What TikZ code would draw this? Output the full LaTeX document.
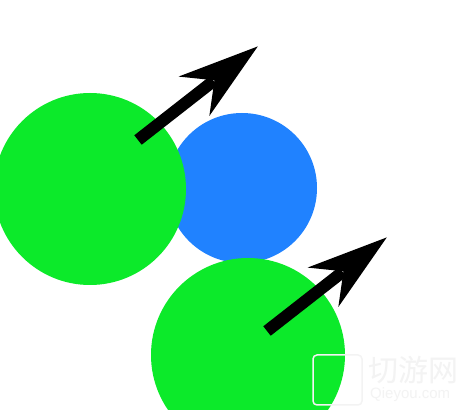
\documentclass[tikz,border=0pt]{standalone}
\usepackage{fontspec}
\newfontfamily\cjk{Noto Sans CJK SC}
\setmainfont{Liberation Sans}
\definecolor{ballgreen}{RGB}{12,234,42}
\definecolor{ballblue}{RGB}{32,130,255}
\definecolor{wmark}{RGB}{243,243,243}
\tikzset{
  ball/.style={circle, inner sep=0pt, minimum size=#1},
  bigarrow/.pic={
    \draw[line width=12pt, black] (0,0) -- (96,0);
    \fill[black] (152,0) -- (71,25) -- (97,0) -- (71,-25) -- cycle;
  }
}
\begin{document}
\begin{tikzpicture}[x=1pt,y=1pt]
\useasboundingbox (0,0) rectangle (467,410);
\fill[white] (0,0) rectangle (467,410);
\begin{scope}
\clip (0,0) rectangle (467,410);
\node[ball=150pt, fill=ballblue] (blue) at (242,222) {};
\node[ball=192pt, fill=ballgreen] (green1) at (90,221) {};
\node[ball=194pt, fill=ballgreen] (green2) at (248,55) {};
\end{scope}
\pic[rotate=38] (arrow1) at (138,270) {bigarrow};
\pic[rotate=38] (arrow2) at (267,79) {bigarrow};
% faint watermark
\draw[wmark, line width=1.5pt, rounded corners=4pt] (313,5) rectangle (362,55);
\node[wmark, font=\cjk\fontsize{30}{30}\selectfont, anchor=west, inner sep=0pt] (wm1) at (368,40) {切游网};
\node[wmark, font=\fontsize{15}{15}\selectfont, anchor=west, inner sep=0pt] (wm2) at (370,15) {Qieyou.com};
\end{tikzpicture}
\end{document}
